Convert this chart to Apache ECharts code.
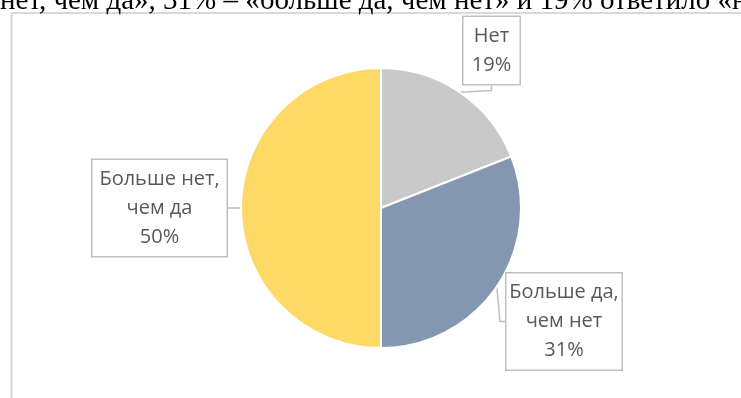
<!DOCTYPE html>
<html>
<head>
<meta charset="utf-8">
<script src="https://cdn.jsdelivr.net/npm/echarts@6/dist/echarts.min.js"></script>
<style>
  html, body { margin: 0; padding: 0; background: #fff; overflow: hidden; }
  #lead {
    position: absolute; left: 0; top: -17px; white-space: nowrap; line-height: 32px;
    font-family: "Liberation Serif", "DejaVu Serif", serif; font-size: 29px; color: #000;
  }
  #chart { position: absolute; left: 0; top: 0; width: 741px; height: 398px; }
</style>
</head>
<body>
<div id="chart"></div>
<div id="lead">нет, чем да», 31% – «больше да, чем нет» и 19% ответило «нет».</div>
<script>
// Survey answers, share of respondents in percent
const categories = ['Нет', 'Больше да, чем нет', 'Больше нет, чем да'];
const labelLines = [['Нет'], ['Больше да,', 'чем нет'], ['Больше нет,', 'чем да']];
const shares = [19, 31, 50];
const colors = ['#c9c9c9', '#8497b0', '#ffd966'];

// Callout boxes: centre x, centre y, outer width
const callouts = [[491.5, 50.5, 59], [564, 321.5, 118], [159.5, 208, 137]];

const chart = echarts.init(document.getElementById('chart'));
chart.setOption({
  animation: false,
  graphic: [{
    type: 'rect',
    shape: { x: 11.5, y: 13, width: 900, height: 600 },
    style: { fill: 'none', stroke: '#d9d9d9', lineWidth: 2 },
    silent: true
  }],
  series: [{
    type: 'pie',
    center: [381, 208],
    radius: 140,
    startAngle: 90,
    clockwise: true,
    data: categories.map((c, i) => ({
      name: c,
      value: shares[i],
      itemStyle: { color: colors[i] },
      label: { width: callouts[i][2] - 3 }
    })),
    itemStyle: { borderColor: '#fff', borderWidth: 2 },
    label: {
      show: true,
      formatter: p => labelLines[p.dataIndex].concat([p.value + '%']).join('\n'),
      fontFamily: 'Open Sans',
      fontSize: 20,
      lineHeight: 29,
      color: '#595959',
      align: 'center',
      backgroundColor: '#fff',
      borderColor: '#bfbfbf',
      borderWidth: 1.5,
      padding: [4, 0, 5, 0]
    },
    labelLine: {
      show: true,
      length: 5,
      length2: 5,
      lineStyle: { color: '#bfbfbf', width: 1.5 }
    },
    labelLayout: p => ({
      x: callouts[p.dataIndex][0],
      y: callouts[p.dataIndex][1],
      align: 'center',
      verticalAlign: 'middle'
    })
  }]
});
</script>
</body>
</html>
